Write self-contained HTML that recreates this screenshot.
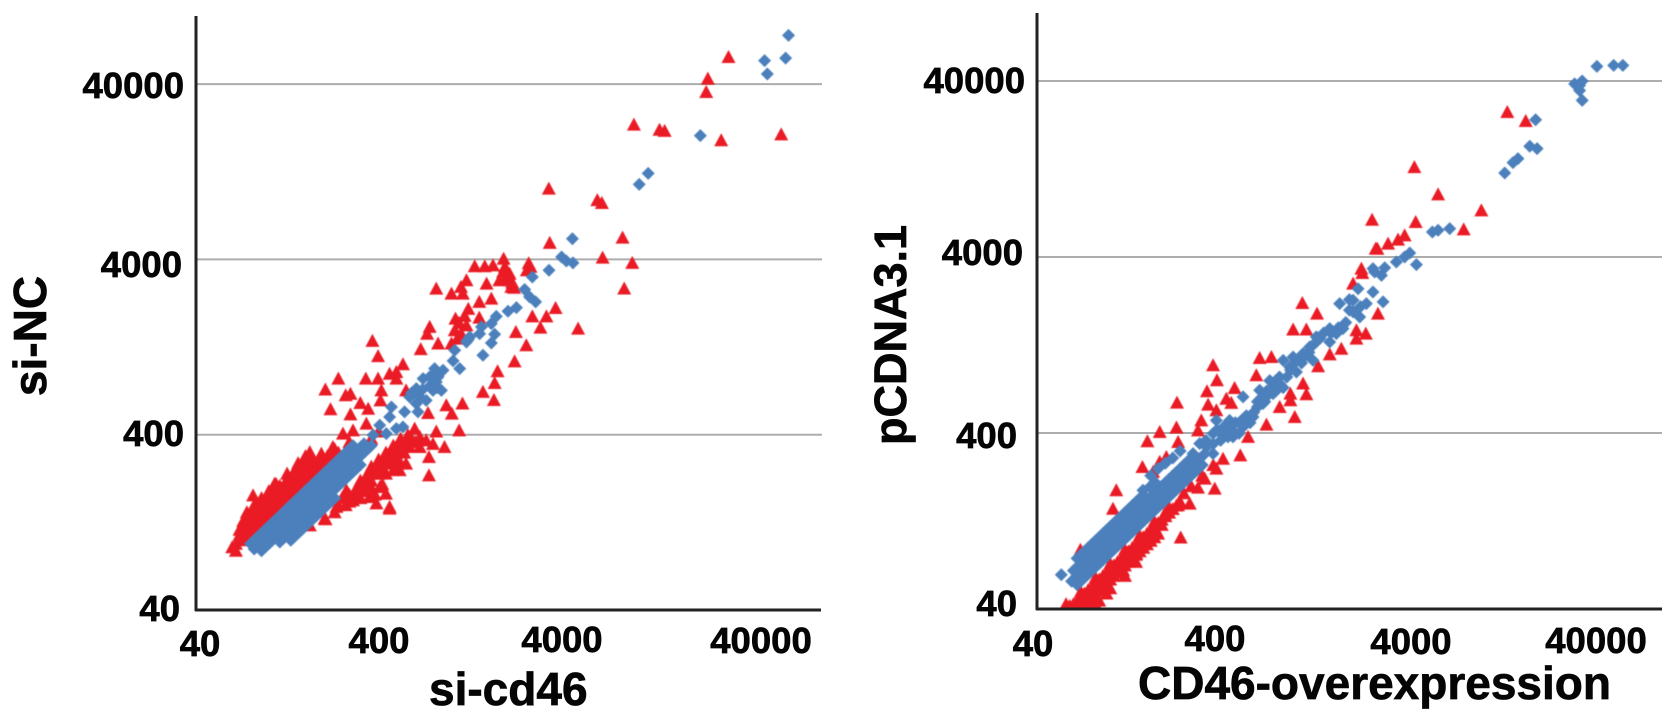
<!DOCTYPE html>
<html lang="en">
<head>
<meta charset="utf-8">
<title>Expression scatter plots</title>
<style>
  html,body{margin:0;padding:0;background:#fff;}
  body{width:1677px;height:722px;overflow:hidden;}
  svg{display:block;}
  text{font-family:"Liberation Sans",sans-serif;font-weight:bold;fill:#050505;stroke:#050505;stroke-width:0.7px;}
  .tick{font-size:36.5px;}
  .title{font-size:46px;}
  .marks{filter:blur(0.45px);}
</style>
</head>
<body>
<svg id="figure" width="1677" height="722" viewBox="0 0 1677 722" xmlns="http://www.w3.org/2000/svg">
  <defs>
    <clipPath id="clip-left"><rect x="196" y="0" width="640" height="611"/></clipPath>
    <clipPath id="clip-right"><rect x="1037" y="0" width="640" height="610"/></clipPath>
  </defs>

  <g id="chart-left">
    <g id="left-grid"></g>
    <g id="left-marks" class="marks" clip-path="url(#clip-left)"></g>
    <line x1="196" y1="16" x2="196" y2="611" stroke="#222" stroke-width="3"/>
    <line x1="195" y1="610" x2="821" y2="610" stroke="#222" stroke-width="3"/>
    <text class="tick" x="184" y="98" text-anchor="end">40000</text>
    <text class="tick" x="182" y="277" text-anchor="end">4000</text>
    <text class="tick" x="184" y="446" text-anchor="end">400</text>
    <text class="tick" x="180" y="621" text-anchor="end">40</text>
    <text class="tick" x="200" y="656" text-anchor="middle">40</text>
    <text class="tick" x="379" y="653" text-anchor="middle">400</text>
    <text class="tick" x="562" y="652" text-anchor="middle">4000</text>
    <text class="tick" x="761" y="653" text-anchor="middle">40000</text>
    <text class="title" x="429" y="705">si-cd46</text>
    <text class="title" transform="translate(46,336) rotate(-90)" text-anchor="middle">si-NC</text>
  </g>

  <g id="chart-right">
    <g id="right-grid"></g>
    <g id="right-marks" class="marks" clip-path="url(#clip-right)"></g>
    <line x1="1037" y1="13" x2="1037" y2="610" stroke="#222" stroke-width="3"/>
    <line x1="1036" y1="609" x2="1662" y2="609" stroke="#222" stroke-width="3"/>
    <text class="tick" x="1025" y="93" text-anchor="end">40000</text>
    <text class="tick" x="1023" y="265" text-anchor="end">4000</text>
    <text class="tick" x="1017" y="448" text-anchor="end">400</text>
    <text class="tick" x="1017" y="616" text-anchor="end">40</text>
    <text class="tick" x="1033" y="656" text-anchor="middle">40</text>
    <text class="tick" x="1215" y="651" text-anchor="middle">400</text>
    <text class="tick" x="1411" y="654" text-anchor="middle">4000</text>
    <text class="tick" x="1596" y="653" text-anchor="middle">40000</text>
    <text class="title" x="1138" y="699">CD46-overexpression</text>
    <text class="title" style="font-size:45px" transform="translate(906,335) rotate(-90)" text-anchor="middle">pCDNA3.1</text>
  </g>
</svg>

<script>
// Axis tick values (expression level).
const gridTicks = [400, 4000, 40000];

// All points are [log10(x value), log10(y value)].
const leftRedPoints = [
[3.535,3.696],[3.125,3.563],[3.18,3.563],[3.225,3.568],[3.283,3.606],[3.42,3.58],[3.41,3.54],[3.26,3.483],[3.316,3.52],[3.325,3.445],[3.316,3.483],[3.29,3.56],
[2.915,3.435],[2.998,3.407],[3.06,3.407],[3.05,3.445],[3.08,3.483],[3.19,3.464],[3.15,3.36],[3.216,3.378],[3.09,3.32],[3.15,3.27],[3.567,3.325],[3.44,3.277],[3.517,3.277],
[3.484,3.213],[3.69,3.207],[3.35,3.188],[3.407,3.112],[3.343,3.02],[3.25,2.964],[3.234,2.897],[3.17,2.846],[3.23,2.80],[2.879,3.217],[2.865,3.178],[3.02,3.264],[3.016,3.198],
[3.08,3.226],[2.998,3.122],[2.925,3.122],[2.83,3.09],[2.566,3.137],[2.597,3.05],[2.733,3.004],[2.697,2.96],[2.697,2.922],[2.66,2.95],[2.53,2.922],[2.597,2.922],[2.38,2.922],
[2.309,2.86],[2.615,2.855],[2.446,2.836],[2.42,2.827],[2.75,2.855],[2.61,2.798],[2.50,2.783],[2.543,2.75],[2.337,2.747],[2.446,2.718],[2.533,2.665],[2.87,2.726],[2.97,2.77],
[3.058,2.78],[3.0,2.722],[3.04,2.627],[2.915,2.62],[2.797,2.637],[2.405,2.608],[2.46,2.627],[2.825,2.59],[2.86,2.57],[2.96,2.532],[2.897,2.55],[2.875,2.475],[2.875,2.37],
[2.75,2.57],[2.697,2.532],[2.64,2.437],[2.75,2.437],[2.697,2.456],[2.606,2.38],[2.66,2.19],[2.588,2.21],[2.55,2.247],[2.64,2.266],[2.478,2.266],[2.433,2.228],[2.378,2.20],
[2.305,2.123],[2.224,2.085],[2.35,2.532],[2.287,2.494],[2.224,2.503],[2.214,2.437],[2.132,2.38],[2.032,2.323],[1.914,2.256],
[2.715,2.55],[2.68,2.475],[2.606,2.437],[2.57,2.38],[2.533,2.323],[2.497,2.304],[2.424,2.285],[2.606,2.304],[2.77,2.532],[2.825,2.532],[2.64,2.38],[2.715,2.40],[2.46,2.228],[2.405,2.247],
[2.66,2.18],[2.37,2.19],[2.31,2.12],
[1.80,1.96],[1.84,2.0],[1.88,2.04],[1.92,2.08],[1.96,2.12],[2.0,2.16],[2.04,2.2],[2.08,2.24],[2.12,2.28],[2.16,2.32],[2.2,2.36],[2.24,2.4],[2.28,2.44],[2.32,2.48],[2.36,2.52],
[1.84,2.06],[1.88,2.1],[1.92,2.14],[1.96,2.18],[2.0,2.22],[2.04,2.26],[2.08,2.3],[2.12,2.34],[2.16,2.38],[2.2,2.42],[2.24,2.46],
[1.88,2.16],[1.92,2.2],[1.96,2.24],[2.0,2.28],[2.04,2.32],[2.1,2.38],[2.16,2.44],[2.2,2.48],
[1.82,1.98],[1.86,2.02],[1.9,2.06],[1.94,2.1],[1.98,2.14],[2.02,2.18],[2.06,2.22],[2.1,2.26],[2.14,2.3],[2.18,2.34],[2.22,2.38],[2.26,2.42],[2.3,2.46],[2.34,2.5],
[1.84,2.03],[1.88,2.07],[1.92,2.11],[1.96,2.15],[2,2.19],[2.04,2.23],[2.08,2.27],[2.12,2.31],[2.16,2.35],[2.2,2.39],[2.24,2.43],[2.28,2.47],
[1.86,2.11],[1.9,2.15],[1.94,2.19],[1.98,2.23],[2.02,2.27],[2.06,2.31],[2.1,2.35],[2.14,2.39],[2.18,2.43],[2.22,2.47],
[1.82,1.94],[1.9,2.02],[1.98,2.1],[2.06,2.18],[2.14,2.26],[2.22,2.34],[2.3,2.42],[2.38,2.5],[2.44,2.56],
[2.44,2.47],[2.48,2.5],[2.52,2.54],[2.56,2.58],[2.6,2.62],[2.48,2.3],[2.52,2.34],[2.56,2.38],[2.6,2.42],[2.64,2.48],[2.68,2.52],[2.72,2.58],[2.56,2.3],
[2.4,2.24],[2.44,2.26],[2.5,2.34],[2.54,2.38],[2.56,2.42],[2.6,2.46],[2.64,2.5],[2.68,2.54],[2.72,2.56],[2.52,2.28],[2.56,2.34],[2.6,2.38],[2.62,2.42],[2.66,2.44],[2.7,2.5],[2.74,2.5],
[2.78,2.58],[2.76,2.6],[2.8,2.56],[2.72,2.44],[2.68,2.40],[2.62,2.32],[2.58,2.26],[2.5,2.24],[2.44,2.22],[2.36,2.16],[2.42,2.2],
[3.04,3.24],[3.05,3.18],[3.03,3.15],[3.07,3.28],[3.3,3.5],[3.33,3.47],[3.28,3.53],[3.34,3.44],[3.43,3.56],
[3.795,3.94],[3.82,3.924],[3.53,4.006],[3.933,3.726],[3.824,3.612],[3.986,3.582],[3.942,3.436],[3.995,4.371],[4.135,4.342],[4.163,4.335],[4.472,4.282],[4.39,4.557],[4.399,4.633],[4.512,4.757],[4.80,4.315]
];

const leftBluePoints = [
[1.9,1.98],[1.94,2.02],[1.98,2.06],[2.02,2.1],[2.06,2.14],[2.1,2.18],[2.14,2.22],[2.18,2.26],[2.22,2.3],[2.26,2.34],[2.3,2.38],[2.34,2.42],[2.38,2.46],[2.42,2.5],[2.46,2.54],
[1.92,1.95],[1.96,1.99],[2,2.03],[2.04,2.07],[2.08,2.11],[2.12,2.15],[2.16,2.19],[2.2,2.23],[2.24,2.27],[2.28,2.31],[2.32,2.35],[2.36,2.39],[2.4,2.43],[2.44,2.47],[2.48,2.51],[2.52,2.55],
[1.96,1.94],[2,1.98],[2.04,2.02],[2.08,2.06],[2.12,2.1],[2.16,2.14],[2.2,2.18],[2.24,2.22],[2.28,2.26],[2.32,2.3],[2.36,2.34],[2.4,2.38],[2.44,2.42],[2.48,2.46],[2.52,2.5],[2.56,2.54],
[2.06,1.99],[2.1,2.03],[2.14,2.07],[2.18,2.11],[2.22,2.15],[2.26,2.19],[2.3,2.23],[2.34,2.27],[2.38,2.31],[2.42,2.35],[2.46,2.39],[2.5,2.43],
[2.12,2.0],[2.16,2.04],[2.2,2.08],[2.24,2.12],[2.28,2.16],[2.32,2.2],[2.36,2.24],
[1.92,2],[1.96,2.04],[2,2.08],[2.04,2.12],[2.08,2.16],[2.12,2.2],[2.16,2.24],[2.2,2.28],[2.24,2.32],[2.28,2.36],[2.32,2.4],[2.36,2.44],[2.4,2.48],[2.44,2.52],
[1.94,1.97],[1.98,2.01],[2.02,2.05],[2.06,2.09],[2.1,2.13],[2.14,2.17],[2.18,2.21],[2.22,2.25],[2.26,2.29],[2.3,2.33],[2.34,2.37],[2.38,2.41],[2.42,2.45],[2.46,2.49],[2.5,2.53],
[1.98,1.96],[2.02,2],[2.06,2.04],[2.1,2.08],[2.14,2.12],[2.18,2.16],[2.22,2.2],[2.26,2.24],[2.3,2.28],[2.34,2.32],[2.38,2.36],[2.42,2.4],[2.46,2.44],[2.5,2.48],[2.54,2.52],
[2.08,2.01],[2.12,2.05],[2.16,2.09],[2.2,2.13],[2.24,2.17],[2.28,2.21],[2.32,2.25],[2.36,2.29],[2.4,2.33],[2.44,2.37],[2.48,2.41],
[2.14,2.02],[2.18,2.06],[2.22,2.1],[2.26,2.14],[2.3,2.18],[2.34,2.22],
[3.659,3.72],[3.6,3.616],[3.626,3.593],[3.662,3.582],[3.531,3.54],[3.44,3.502],[3.398,3.43],[3.425,3.388],[3.458,3.36],[3.353,3.327],[3.307,3.306],[3.243,3.277],[3.216,3.236],
[3.162,3.217],[3.152,3.178],[3.234,3.175],[3.216,3.125],[3.17,3.055],[3.098,3.16],[3.08,3.131],[3.016,3.084],[3.007,3.023],[3.043,2.979],[2.952,2.97],[2.906,2.979],[2.879,2.932],
[2.843,2.922],[2.915,2.903],[2.943,2.855],[2.806,2.865],[2.77,2.817],[2.86,2.798],[2.806,2.779],[2.67,2.76],[2.66,2.703],[2.742,2.732],[2.815,2.732],[2.606,2.656],[2.697,2.637],
[2.642,2.608],[2.733,2.646],[2.57,2.6],[2.925,2.932],[2.897,2.855],[2.825,2.817],[2.92,2.87],[2.9,2.94],[2.88,2.88],[2.84,2.86],[2.78,2.84],[3.09,3.145],
[4.358,4.308],[4.073,4.093],[4.024,4.03],[4.709,4.736],[4.724,4.66],[4.84,4.88],[4.824,4.75]
];

const rightRedPoints = [
[3.443,3.65],[3.37,3.511],[3.32,3.451],[3.044,3.341],[3.124,3.28],[2.994,3.19],[3.066,3.19],[3.338,3.186],[3.389,3.167],[3.338,3.138],[3.455,3.28],[3.256,3.081],[3.193,3.049],
[3.13,2.981],[2.812,3.028],[2.876,3.034],[2.794,2.93],[2.559,2.987],[2.58,2.902],[3.048,2.883],[3.066,2.822],[2.979,2.826],[2.979,2.788],[2.921,2.75],[3.003,2.693],[2.849,2.65],
[2.526,2.839],[2.676,2.858],[2.631,2.797],[2.658,2.773],[2.532,2.763],[2.577,2.731],[2.363,2.775],[2.495,2.674],[2.477,2.617],[2.36,2.633],[2.269,2.608],[2.202,2.555],[2.369,2.551],
[2.749,2.58],[2.707,2.475],[2.613,2.456],[2.577,2.4],[2.514,2.343],[2.477,2.292],[2.568,2.286],[2.432,2.201],[2.369,2.192],[2.305,2.466],[2.269,2.438],[2.233,2.381],[2.175,2.409],
[2.033,2.277],[2.015,2.172],[1.838,1.939],[2.383,2.008],[2.296,2.144],[2.251,2.049],[2.197,1.992],[2.142,1.917],[2.07,1.822],
[1.8,1.63],[1.84,1.67],[1.88,1.71],[1.92,1.75],[1.96,1.79],[2,1.83],[2.04,1.87],[2.08,1.91],[2.12,1.95],[2.16,1.99],[2.2,2.03],[2.24,2.07],[2.28,2.11],[2.32,2.15],[2.36,2.19],
[1.86,1.63],[1.9,1.67],[1.94,1.71],[1.98,1.75],[2.02,1.79],[2.06,1.83],[2.1,1.87],[2.14,1.91],[2.18,1.95],[2.22,1.99],[2.26,2.03],
[1.76,1.63],[1.92,1.63],[2.0,1.72],[2.08,1.79],[2.14,1.87],
[1.82,1.65],[1.86,1.69],[1.9,1.73],[1.94,1.77],[1.98,1.81],[2.02,1.85],[2.06,1.89],[2.1,1.93],[2.14,1.97],[2.18,2.01],[2.22,2.05],[2.26,2.09],[2.3,2.13],[2.34,2.17],[2.38,2.21],
[1.84,1.7],[1.92,1.78],[2,1.86],[2.08,1.94],[2.16,2.02],[2.24,2.1],[2.32,2.18],[2.4,2.26],[2.44,2.3],[2.5,2.36],[2.56,2.42],
[1.84,1.64],[1.88,1.68],[1.92,1.72],[1.96,1.76],[2,1.8],[2.04,1.84],[2.08,1.88],[2.12,1.92],[2.16,1.96],[2.2,2],[2.24,2.04],[2.28,2.08],
[1.88,1.65],[1.92,1.69],[1.96,1.73],[2,1.77],[2.04,1.81],[2.08,1.85],[2.12,1.89],[2.16,1.93],[2.2,1.97],[2.24,2.01],
[1.78,1.62],[1.8,1.61],[1.84,1.61],[1.88,1.61],[1.9,1.62],[1.94,1.65],[1.98,1.69],
[4.158,4.426],[4.258,4.375],[3.653,4.113],[3.782,3.958],[3.423,3.814],[4.017,3.867],[3.66,3.801],[3.921,3.759],[3.6,3.725],[3.564,3.701],[3.51,3.678],[3.452,3.649],[3.365,3.536]
];

const rightBluePoints = [
[1.734,1.797],
[1.82,1.89],[1.86,1.93],[1.9,1.97],[1.94,2.01],[1.98,2.05],[2.02,2.09],[2.06,2.13],[2.1,2.17],[2.14,2.21],[2.18,2.25],
[1.8,1.82],[1.84,1.86],[1.88,1.9],[1.92,1.94],[1.96,1.98],[2,2.02],[2.04,2.06],[2.08,2.1],[2.12,2.14],[2.16,2.18],[2.2,2.22],[2.24,2.26],[2.28,2.3],[2.32,2.34],[2.36,2.38],[2.4,2.42],[2.44,2.46],
[1.79,1.76],[1.83,1.8],[1.87,1.84],[1.91,1.88],[1.95,1.92],[1.99,1.96],[2.03,2],[2.07,2.04],[2.11,2.08],[2.15,2.12],[2.19,2.16],[2.23,2.2],[2.27,2.24],[2.31,2.28],[2.35,2.32],[2.39,2.36],[2.43,2.4],[2.47,2.44],[2.51,2.48],
[1.82,1.74],[1.86,1.78],[1.9,1.82],[1.94,1.86],[1.98,1.9],[2.02,1.94],[2.06,1.98],[2.1,2.02],[2.14,2.06],[2.18,2.1],[2.22,2.14],[2.26,2.18],[2.3,2.22],[2.34,2.26],[2.38,2.3],[2.42,2.34],[2.46,2.38],[2.5,2.42],
[1.84,1.91],[1.88,1.95],[1.92,1.99],[1.96,2.03],[2,2.07],[2.04,2.11],[2.08,2.15],[2.12,2.19],[2.16,2.23],
[1.82,1.84],[1.86,1.88],[1.9,1.92],[1.94,1.96],[1.98,2],[2.02,2.04],[2.06,2.08],[2.1,2.12],[2.14,2.16],[2.18,2.2],[2.22,2.24],[2.26,2.28],[2.3,2.32],[2.34,2.36],[2.38,2.4],[2.42,2.44],
[1.81,1.78],[1.85,1.82],[1.89,1.86],[1.93,1.9],[1.97,1.94],[2.01,1.98],[2.05,2.02],[2.09,2.06],[2.13,2.1],[2.17,2.14],[2.21,2.18],[2.25,2.22],[2.29,2.26],[2.33,2.3],[2.37,2.34],[2.41,2.38],[2.45,2.42],[2.49,2.46],
[1.84,1.76],[1.88,1.8],[1.92,1.84],[1.96,1.88],[2,1.92],[2.04,1.96],[2.08,2],[2.12,2.04],[2.16,2.08],[2.2,2.12],[2.24,2.16],[2.28,2.2],[2.32,2.24],[2.36,2.28],[2.4,2.32],[2.44,2.36],[2.48,2.4],
[2.22,2.36],[2.26,2.4],[2.3,2.43],[2.34,2.46],[2.38,2.5],[2.178,2.277],[2.215,2.295],[2.242,2.324],
[2.52,2.56],[2.56,2.54],[2.58,2.62],[2.6,2.6],[2.62,2.64],[2.64,2.58],[2.66,2.62],[2.68,2.66],[2.7,2.6],[2.72,2.68],[2.74,2.7],[2.76,2.66],[2.78,2.72],[2.8,2.78],[2.82,2.8],[2.84,2.78],[2.86,2.82],[2.88,2.86],[2.9,2.84],[2.92,2.92],[2.94,2.86],[2.9,2.9],[2.96,2.92],[2.98,2.96],
[3.0,3.0],[3.02,3.02],[3.04,3.0],[3.06,3.04],[3.08,3.06],[3.1,3.1],[3.12,3.12],[3.14,3.14],[3.16,3.17],[3.2,3.17],[3.24,3.2],[3.28,3.23],[3.3,3.3],[3.3,3.36],[3.36,3.32],
[2.722,2.807],[2.812,2.845],[2.867,2.9],[2.921,2.883],[2.885,2.826],[2.83,2.769],[2.776,2.693],[2.722,2.636],[2.667,2.58],[2.613,2.617],[2.649,2.674],[2.577,2.674],[2.559,2.599],
[2.486,2.542],[2.523,2.523],[2.45,2.485],[2.559,2.485],[2.486,2.428],[2.6,2.56],[2.7,2.66],[2.8,2.75],[2.85,2.84],
[2.94,3.015],[2.994,3.034],[2.976,2.977],[3.048,3.053],[3.102,3.015],[3.012,2.949],[3.12,3.148],[3.084,3.091],[3.193,3.195],[3.265,3.195],[3.193,3.119],[3.229,3.167],
[3.247,3.337],[3.32,3.356],[3.32,3.29],[3.356,3.261],[3.392,3.337],[3.347,3.422],[3.428,3.403],[3.437,3.517],[3.474,3.498],[3.483,3.347],
[4.312,4.382],[4.28,4.231],[4.32,4.218],[4.216,4.161],[4.189,4.138],[4.144,4.079],[3.845,3.763],[3.782,3.754],[3.751,3.744],[3.628,3.625],[3.6,3.602],[3.555,3.574],[3.664,3.559],[3.492,3.541],[3.428,3.536],
[4.786,4.691],[4.736,4.691],[4.645,4.685],[4.565,4.602],[4.524,4.586],[4.551,4.577],[4.551,4.548],[4.565,4.492]
];

const SVG_NS = 'http://www.w3.org/2000/svg';
const LOG_MIN = Math.log10(40);

function makeAxis(origin, pixelsPerDecade, direction) {
  return function (logValue) {
    return origin + direction * pixelsPerDecade * (logValue - LOG_MIN);
  };
}

const leftX = makeAxis(196, 183, 1);
const leftY = makeAxis(610, 175.3, -1);
const rightX = makeAxis(1037, 184, 1);
const rightY = makeAxis(609, 176, -1);

function drawGrid(groupId, yAxis, x1, x2) {
  const group = document.getElementById(groupId);
  gridTicks.forEach(function (tick) {
    const line = document.createElementNS(SVG_NS, 'line');
    const y = yAxis(Math.log10(tick));
    line.setAttribute('x1', x1);
    line.setAttribute('x2', x2);
    line.setAttribute('y1', y);
    line.setAttribute('y2', y);
    line.setAttribute('stroke', '#adadad');
    line.setAttribute('stroke-width', '2');
    
    
    group.appendChild(line);
  });
}

function drawTriangles(groupId, points, xAxis, yAxis) {
  const group = document.getElementById(groupId);
  points.forEach(function (point) {
    const cx = xAxis(point[0]);
    const cy = yAxis(point[1]);
    const mark = document.createElementNS(SVG_NS, 'polygon');
    mark.setAttribute('points', cx + ',' + (cy - 7) + ' ' + (cx + 7) + ',' + (cy + 6) + ' ' + (cx - 7) + ',' + (cy + 6));
    mark.setAttribute('fill', '#ea1b25');
    
    
    group.appendChild(mark);
  });
}

function drawDiamonds(groupId, points, xAxis, yAxis) {
  const group = document.getElementById(groupId);
  points.forEach(function (point) {
    const cx = xAxis(point[0]);
    const cy = yAxis(point[1]);
    const mark = document.createElementNS(SVG_NS, 'polygon');
    mark.setAttribute('points', cx + ',' + (cy - 6.5) + ' ' + (cx + 6.5) + ',' + cy + ' ' + cx + ',' + (cy + 6.5) + ' ' + (cx - 6.5) + ',' + cy);
    mark.setAttribute('fill', '#4b80bc');
    
    
    group.appendChild(mark);
  });
}

drawGrid('left-grid', leftY, 196, 822);
drawGrid('right-grid', rightY, 1037, 1662);
drawTriangles('left-marks', leftRedPoints, leftX, leftY);
drawDiamonds('left-marks', leftBluePoints, leftX, leftY);
drawTriangles('right-marks', rightRedPoints, rightX, rightY);
drawDiamonds('right-marks', rightBluePoints, rightX, rightY);
</script>
</body>
</html>
